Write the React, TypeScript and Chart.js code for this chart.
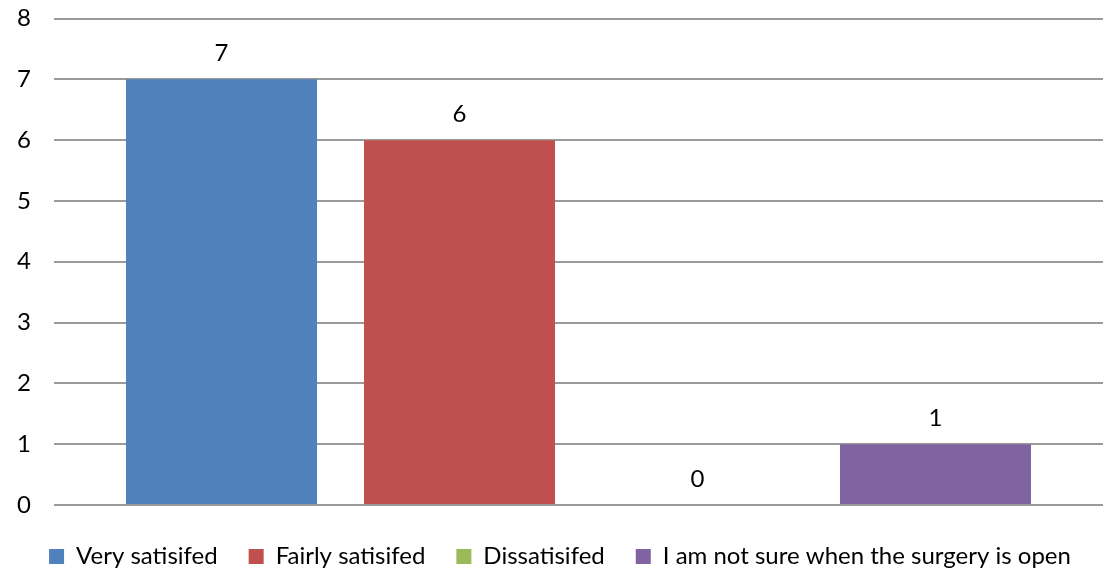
import React, { useEffect, useRef } from "react";
import { Chart, registerables } from "chart.js";

Chart.register(...registerables);

const categories = [""];
const seriesNames = [
  "Very satisifed",
  "Fairly satisifed",
  "Dissatisifed",
  "I am not sure when the surgery is open",
];
const veryValues = [7];
const fairlyValues = [6];
const dissatisfiedValues = [0];
const notSureValues = [1];
const seriesColors = ["#4F81BD", "#C0504D", "#9BBB59", "#8064A2"];
const yTicks = [0, 1, 2, 3, 4, 5, 6, 7, 8];

const FONT = "Lato, 'Noto Sans', sans-serif";
const FONT_SIZE = 24;

// Writes each bar's value just above its top edge.
const valueLabels = {
  id: "valueLabels",
  afterDatasetsDraw(chart: any) {
    const ctx = chart.ctx;
    ctx.save();
    ctx.font = `${FONT_SIZE}px ${FONT}`;
    ctx.fillStyle = "#000";
    ctx.textAlign = "center";
    ctx.textBaseline = "middle";
    chart.data.datasets.forEach((ds: any, i: number) => {
      const meta = chart.getDatasetMeta(i);
      meta.data.forEach((el: any, j: number) => {
        ctx.fillText(String(ds.data[j]), el.x, el.y - 26);
      });
    });
    ctx.restore();
  },
};

export default function App() {
  const ref = useRef<HTMLCanvasElement | null>(null);

  useEffect(() => {
    if (!ref.current) return;
    const allValues = [veryValues, fairlyValues, dissatisfiedValues, notSureValues];
    const chart = new Chart(ref.current, {
      type: "bar",
      data: {
        labels: categories,
        datasets: seriesNames.map((name, i) => ({
          label: name,
          data: allValues[i],
          backgroundColor: seriesColors[i],
          borderWidth: 0,
          categoryPercentage: 0.9075,
          barPercentage: 0.8025,
        })),
      },
      options: {
        animation: false,
        responsive: false,
        devicePixelRatio: 1,
        layout: { padding: { top: 18.5, right: 1, bottom: -5.5, left: 17 } },
        plugins: {
          legend: {
            position: "bottom",
            labels: {
              color: "#000",
              font: { family: FONT, size: FONT_SIZE },
              boxWidth: 15,
              boxHeight: 15,
              padding: 31,
            },
          },
          tooltip: { enabled: false },
        },
        scales: {
          x: {
            display: true,
            grid: { display: false },
            border: { display: false },
            ticks: { display: false },
            afterFit: (axis: any) => {
              axis.height = 8.5;
            },
          },
          y: {
            min: 0,
            max: 8,
            afterBuildTicks: (axis: any) => {
              axis.ticks = yTicks.map((v) => ({ value: v }));
            },
            afterFit: (axis: any) => {
              axis.width = 37;
            },
            border: { display: false },
            grid: { color: "#9a9a9a", lineWidth: 2, drawTicks: false },
            ticks: {
              color: "#000",
              font: { family: FONT, size: FONT_SIZE },
              padding: 0,
              crossAlign: "far",
            },
          },
        },
      },
      plugins: [valueLabels],
    });
    return () => chart.destroy();
  }, []);

  return (
    <div style={{ position: "fixed", left: 0, top: 0, width: 1104, height: 573, background: "#fff" }}>
      <canvas ref={ref} width={1104} height={573} />
    </div>
  );
}
